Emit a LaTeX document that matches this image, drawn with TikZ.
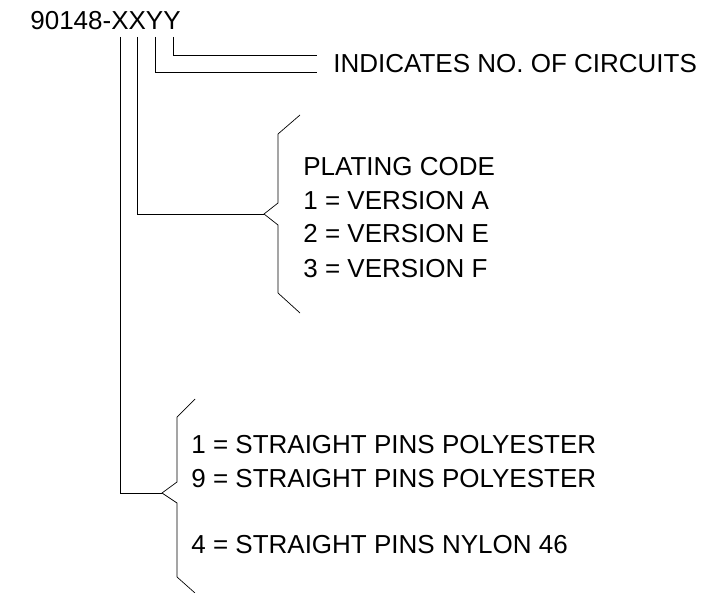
\documentclass[tikz,border=0pt]{standalone}
\usepackage{fontspec}
\setmainfont{Liberation Sans}
\usetikzlibrary{positioning}
\newcommand{\lbfont}{\fontsize{26}{33}\selectfont}

\begin{document}
\begin{tikzpicture}[x=1pt,y=-1pt,line width=0.7pt,
  lbl/.style={anchor=base west,inner sep=0pt,font=\lbfont}]
  \useasboundingbox (0,0) rectangle (719,593); % 画像の大きさ
  \node[lbl] (pn) at (30,30) {90148-XXYY}; % 品番
  \coordinate (xa) at (120,37); \coordinate (xb) at (137,37); % X の下端
  \coordinate (ya) at (155,37); \coordinate (yb) at (173,37); % Y の下端
  \coordinate (ea) at (317,72); \coordinate (eb) at (317,55); % 回路数への線の端
  \draw (yb) |- (eb); % 2 番目の Y
  \draw (ya) |- (ea); % 1 番目の Y
  \node[lbl] (nc) at (333,73) {INDICATES NO. OF CIRCUITS};
  \coordinate (ta) at (264,214); % めっきコードの括弧の先
  \draw (300,115) -- (278,134) -- (278,203) -- (ta) -- (278,225) -- (278,293) -- (300,313); % 括弧(上)
  \draw (xb) |- (ta); % 2 番目の X
  \node[lbl] (pc) at (303,176) {PLATING CODE};
  \node[lbl] (pa) at (303,210) {1 = VERSION A};
  \node[lbl] (pe) at (303,243) {2 = VERSION E};
  \node[lbl] (pf) at (303,277) {3 = VERSION F};
  \coordinate (tb) at (162,493); % ピンの括弧の先
  \draw (195,399) -- (177,417) -- (177,482) -- (tb) -- (177,503) -- (177,577) -- (195,593); % 括弧(下)
  \draw (xa) |- (tb); % 1 番目の X
  \node[lbl] (s1) at (191,453) {1 = STRAIGHT PINS POLYESTER};
  \node[lbl] (s9) at (191,487) {9 = STRAIGHT PINS POLYESTER};
  \node[lbl] (s4) at (191,553) {4 = STRAIGHT PINS NYLON 46};
\end{tikzpicture}
\end{document}
